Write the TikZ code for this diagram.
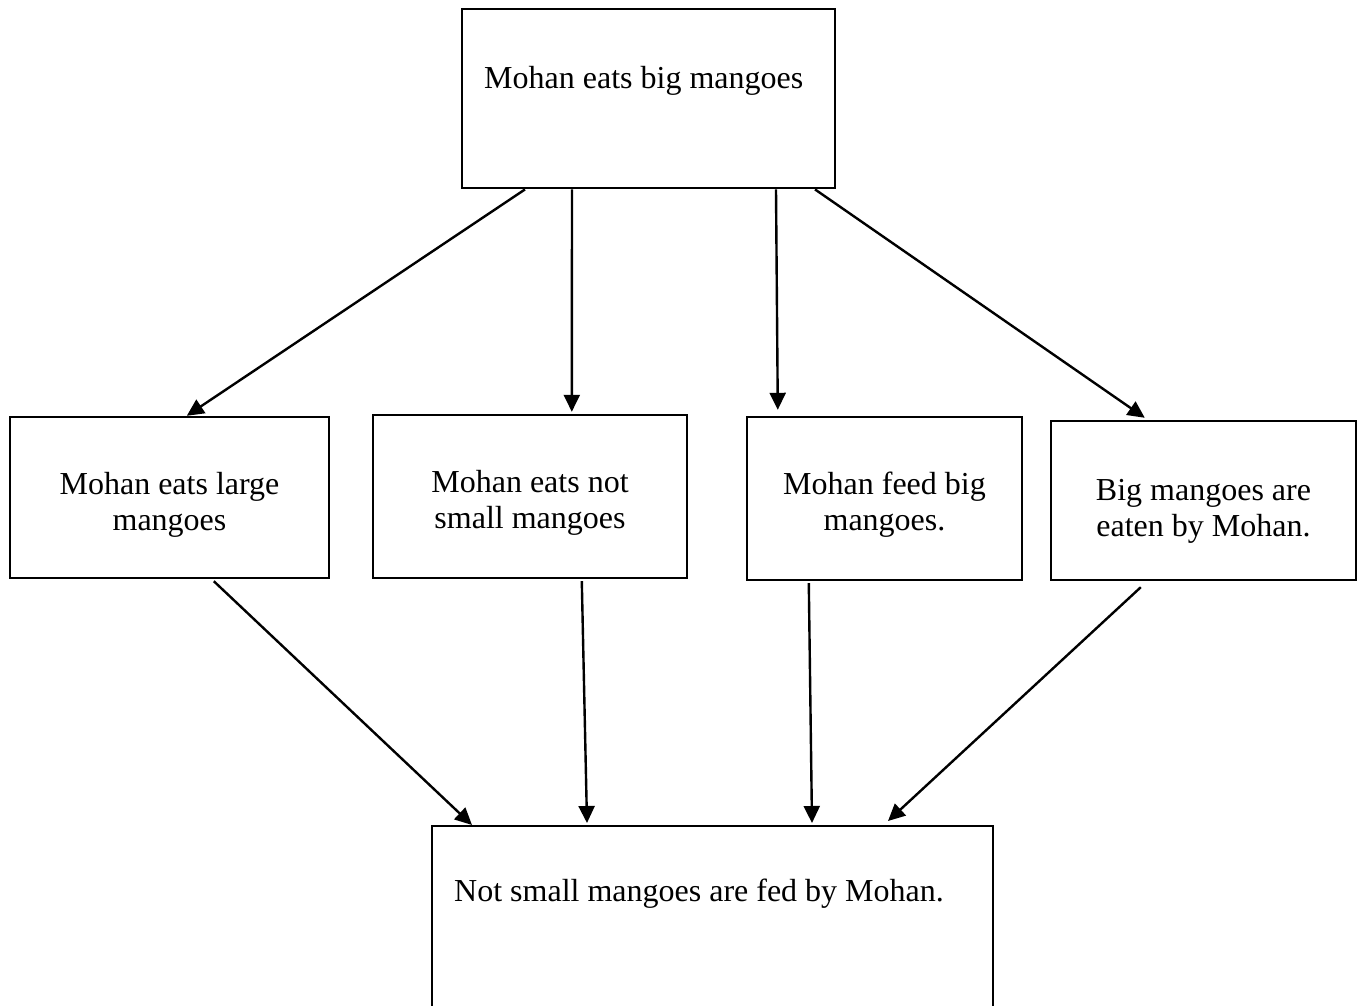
\documentclass[tikz,border=0pt]{standalone}
\usepackage{fontspec}
\setmainfont{Liberation Serif}
\usetikzlibrary{arrows.meta}
\begin{document}
\begin{tikzpicture}[x=0.5pt, y=-0.5pt, line width=1.2pt,
    box/.style={draw, rectangle, inner sep=0pt, align=center,
      font=\fontsize{16}{18}\selectfont},
    wide/.style={box, anchor=north west, inner xsep=11pt, align=flush left},
    arr/.style={-{Triangle[length=8.5pt,width=8pt]}}]
  \useasboundingbox (0,0) rectangle (1362,1006);

  \node[wide, minimum height=89.5pt, text width=164.5pt,
        text height=39.5pt, text depth=50pt] (top) at (461,8)
        {Mohan eats big mangoes};

  \node[box, minimum width=159.5pt, text height=56.5pt, text depth=24pt] (large) at (169.5,497.5)
        {Mohan eats large\\mangoes};
  \node[box, minimum width=157pt, text height=56.5pt, text depth=25pt] (notsmall) at (530,496.5)
        {Mohan eats not\\small mangoes};
  \node[box, minimum width=137.5pt, text height=56.5pt, text depth=25pt] (feed) at (884.5,498.5)
        {Mohan feed big\\mangoes.};
  \node[box, minimum width=152.5pt, text height=57.5pt, text depth=22pt] (passive) at (1203.5,500.5)
        {Big mangoes are\\eaten by Mohan.};

  \node[wide, text width=258.5pt, text height=37.5pt, text depth=55pt] (bottom) at (431,825)
        {Not small mangoes are fed by Mohan.};

  \draw[arr] ([xshift=32pt]top.south west) -- ([xshift=89pt]large.north west);
  \draw[arr] ([xshift=55.5pt]top.south west) -- ([xshift=100pt,yshift=1pt]notsmall.north west);
  \draw[arr] ([xshift=157.5pt]top.south west) -- ([xshift=16pt,yshift=3pt]feed.north west);
  \draw[arr] ([xshift=177pt]top.south west) -- ([xshift=47.5pt,yshift=1pt]passive.north west);

  \draw[arr] ([xshift=102.5pt,yshift=-1pt]large.south west) -- ([xshift=20.5pt]bottom.north west);
  \draw[arr] ([xshift=105pt,yshift=-1pt]notsmall.south west) -- ([xshift=78pt,yshift=1pt]bottom.north west);
  \draw[arr] ([xshift=31.5pt,yshift=-1pt]feed.south west) -- ([xshift=190.5pt,yshift=1pt]bottom.north west);
  \draw[arr] ([xshift=45.5pt,yshift=-3pt]passive.south west) -- ([xshift=228.5pt,yshift=2pt]bottom.north west);
\end{tikzpicture}
\end{document}
